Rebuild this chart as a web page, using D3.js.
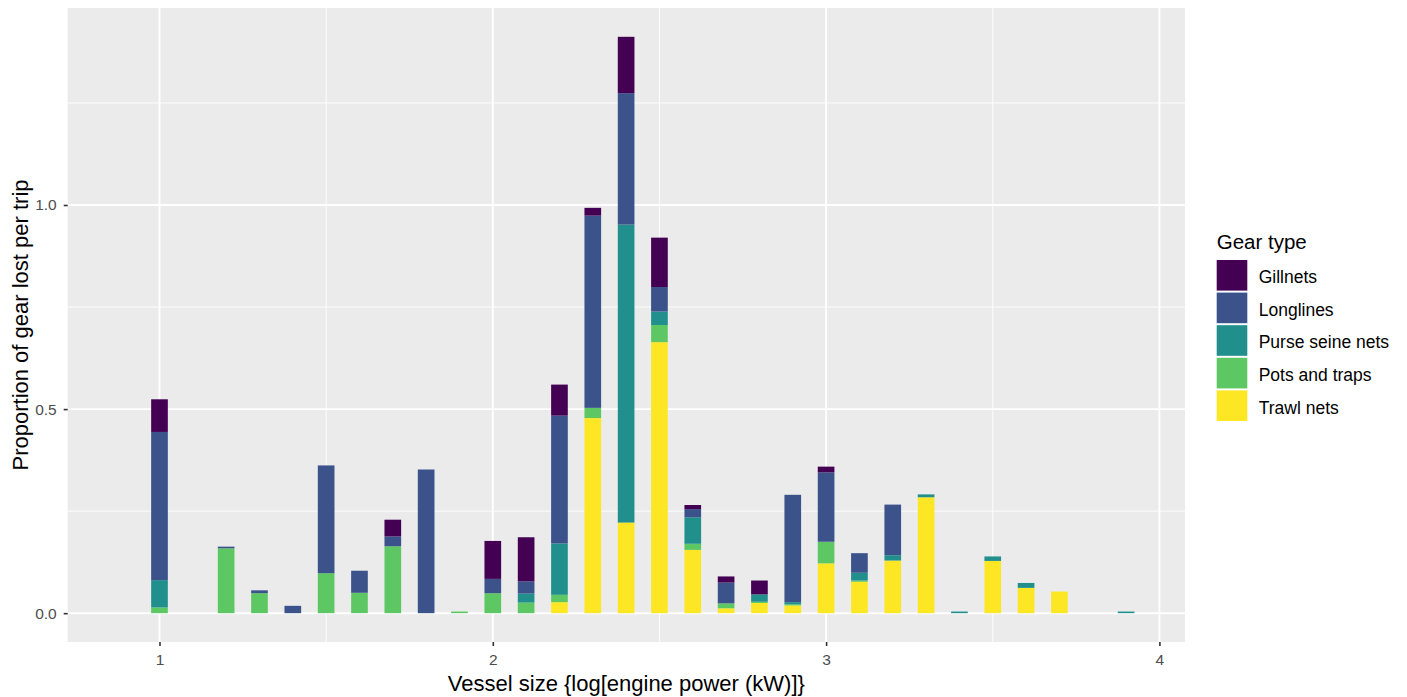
<!DOCTYPE html>
<html>
<head>
<meta charset="utf-8">
<script src="https://cdn.jsdelivr.net/npm/d3@7"></script>
<style>
  body { margin: 0; background: #fff; }
  text { font-family: "Liberation Sans", Arial, sans-serif; }
</style>
</head>
<body>
<div id="chart"></div>
<script>
// Vessel size bins (log engine power) and proportion of gear lost per trip
var sizes     = [1.0, 1.2, 1.3, 1.4, 1.5, 1.6, 1.7, 1.8, 1.9, 2.0, 2.1, 2.2, 2.3, 2.4, 2.5, 2.6, 2.7, 2.8, 2.9, 3.0, 3.1, 3.2, 3.3, 3.4, 3.5, 3.6, 3.7, 3.9];
var gillnets  = [0.080, 0, 0, 0, 0, 0, 0.041, 0, 0, 0.093, 0.108, 0.076, 0.019, 0.138, 0.121, 0.010, 0.015, 0.034, 0, 0.014, 0, 0, 0, 0, 0, 0, 0, 0];
var longlines = [0.363, 0.004, 0.007, 0.018, 0.264, 0.054, 0.024, 0.352, 0, 0.035, 0.030, 0.313, 0.471, 0.322, 0.060, 0.020, 0.051, 0, 0.263, 0.170, 0.048, 0.124, 0, 0, 0, 0, 0, 0];
var purse     = [0.067, 0, 0, 0, 0, 0, 0, 0, 0, 0, 0.022, 0.126, 0, 0.730, 0.033, 0.065, 0, 0.018, 0.005, 0, 0.019, 0.013, 0.007, 0.004, 0.011, 0.012, 0, 0.004];
var pots      = [0.014, 0.159, 0.049, 0, 0.098, 0.050, 0.164, 0, 0.004, 0.049, 0.026, 0.018, 0.025, 0, 0.042, 0.015, 0.012, 0.003, 0.003, 0.053, 0.003, 0, 0, 0, 0, 0, 0, 0];
var trawl     = [0, 0, 0, 0, 0, 0, 0, 0, 0, 0, 0, 0.027, 0.478, 0.222, 0.664, 0.155, 0.012, 0.025, 0.019, 0.122, 0.077, 0.129, 0.284, 0, 0.128, 0.062, 0.053, 0];

var gearTypes = ["Gillnets", "Longlines", "Purse seine nets", "Pots and traps", "Trawl nets"];
var gearColors = ["#440154", "#3B528B", "#21908C", "#5DC863", "#FDE725"];
var xTicks = [1, 2, 3, 4];
var yTicks = [0, 0.5, 1.0];

// build rows for the stack
var rows = sizes.map(function(s, i) {
    return {size: s, "Gillnets": gillnets[i], "Longlines": longlines[i],
            "Purse seine nets": purse[i], "Pots and traps": pots[i], "Trawl nets": trawl[i]};
});

var width = 1407, height = 697;
var margin = {top: 8, right: 222, bottom: 55, left: 67.7};
var pw = width - margin.left - margin.right,
    ph = height - margin.top - margin.bottom;

var colorScale = d3.scaleOrdinal().domain(gearTypes).range(gearColors);

// stacked bottom -> top: trawl first, gillnets last
var stack = d3.stack().keys(gearTypes.slice().reverse());
var series = stack(rows);

var ymax = d3.max(series[series.length - 1], function(d) { return d[1]; });
var xScale = d3.scaleLinear().domain([0.7246, 4.0768]).range([0, pw]);
var yScale = d3.scaleLinear().domain([-0.05 * ymax, 1.05 * ymax]).range([ph, 0]);
var barW = xScale(1.05) - xScale(1.0);

var svg = d3.select("#chart").append("svg")
    .attr("width", width)
    .attr("height", height);

svg.append("rect").attr("width", width).attr("height", height).attr("fill", "#fff");

var g = svg.append("g")
    .attr("transform", "translate(" + margin.left + "," + margin.top + ")");

// panel
g.append("rect")
    .attr("width", pw).attr("height", ph)
    .attr("fill", "#EBEBEB");

// minor grid
g.selectAll(".xminor").data([1.5, 2.5, 3.5]).enter().append("line")
    .attr("x1", function(d) { return xScale(d); }).attr("x2", function(d) { return xScale(d); })
    .attr("y1", 0).attr("y2", ph)
    .attr("stroke", "#fff").attr("stroke-width", 0.9);
g.selectAll(".yminor").data([0.25, 0.75, 1.25]).enter().append("line")
    .attr("y1", function(d) { return yScale(d); }).attr("y2", function(d) { return yScale(d); })
    .attr("x1", 0).attr("x2", pw)
    .attr("stroke", "#fff").attr("stroke-width", 0.9);

// major grid
g.selectAll(".xmajor").data(xTicks).enter().append("line")
    .attr("x1", function(d) { return xScale(d); }).attr("x2", function(d) { return xScale(d); })
    .attr("y1", 0).attr("y2", ph)
    .attr("stroke", "#fff").attr("stroke-width", 1.9);
g.selectAll(".ymajor").data(yTicks).enter().append("line")
    .attr("y1", function(d) { return yScale(d); }).attr("y2", function(d) { return yScale(d); })
    .attr("x1", 0).attr("x2", pw)
    .attr("stroke", "#fff").attr("stroke-width", 1.9);

// bars
var layer = g.selectAll(".layer")
    .data(series)
    .enter().append("g")
    .attr("class", "layer")
    .attr("fill", function(d) { return colorScale(d.key); });

layer.selectAll("rect")
    .data(function(d) { return d; })
    .enter().append("rect")
    .attr("x", function(d) { return xScale(d.data.size) - barW / 2; })
    .attr("width", barW)
    .attr("y", function(d) { return yScale(d[1]); })
    .attr("height", function(d) { return Math.max(0, yScale(d[0]) - yScale(d[1])); });

// axes
var xAxis = d3.axisBottom(xScale).tickValues(xTicks).tickFormat(d3.format("d"))
    .tickSize(4).tickPadding(8);
var yAxis = d3.axisLeft(yScale).tickValues(yTicks).tickFormat(d3.format(".1f"))
    .tickSize(4).tickPadding(7);

var gx = g.append("g").attr("transform", "translate(0," + ph + ")").call(xAxis);
var gy = g.append("g").call(yAxis);
[gx, gy].forEach(function(a) {
    a.select(".domain").remove();
    a.selectAll(".tick line").attr("stroke", "#333").attr("stroke-width", 1.6);
    a.selectAll(".tick text")
        .attr("fill", "#4D4D4D")
        .style("font-size", "15.5px")
        .style("font-family", "'Liberation Sans', Arial, sans-serif");
});

// axis titles
g.append("text")
    .attr("x", pw / 2)
    .attr("y", ph + 49)
    .attr("text-anchor", "middle")
    .style("font-size", "22px")
    .attr("fill", "#000")
    .text("Vessel size {log[engine power (kW)]}");

g.append("text")
    .attr("transform", "rotate(-90)")
    .attr("x", -ph / 2)
    .attr("y", -40)
    .attr("text-anchor", "middle")
    .style("font-size", "22px")
    .attr("fill", "#000")
    .text("Proportion of gear lost per trip");

// legend
var legend = svg.append("g").attr("transform", "translate(1216.7,0)");
legend.append("text")
    .attr("x", 0).attr("y", 249)
    .style("font-size", "20.5px")
    .text("Gear type");

var keySize = 30.6, keyStep = 32.6;
var item = legend.selectAll(".legend")
    .data(gearTypes)
    .enter().append("g")
    .attr("class", "legend")
    .attr("transform", function(d, i) { return "translate(0," + (260 + i * keyStep) + ")"; });

item.append("rect")
    .attr("width", keySize)
    .attr("height", keySize)
    .attr("fill", colorScale);

item.append("text")
    .attr("x", 42)
    .attr("y", keySize / 2)
    .attr("dy", "0.45em")
    .style("font-size", "17.5px")
    .text(function(d) { return d; });
</script>
</body>
</html>
